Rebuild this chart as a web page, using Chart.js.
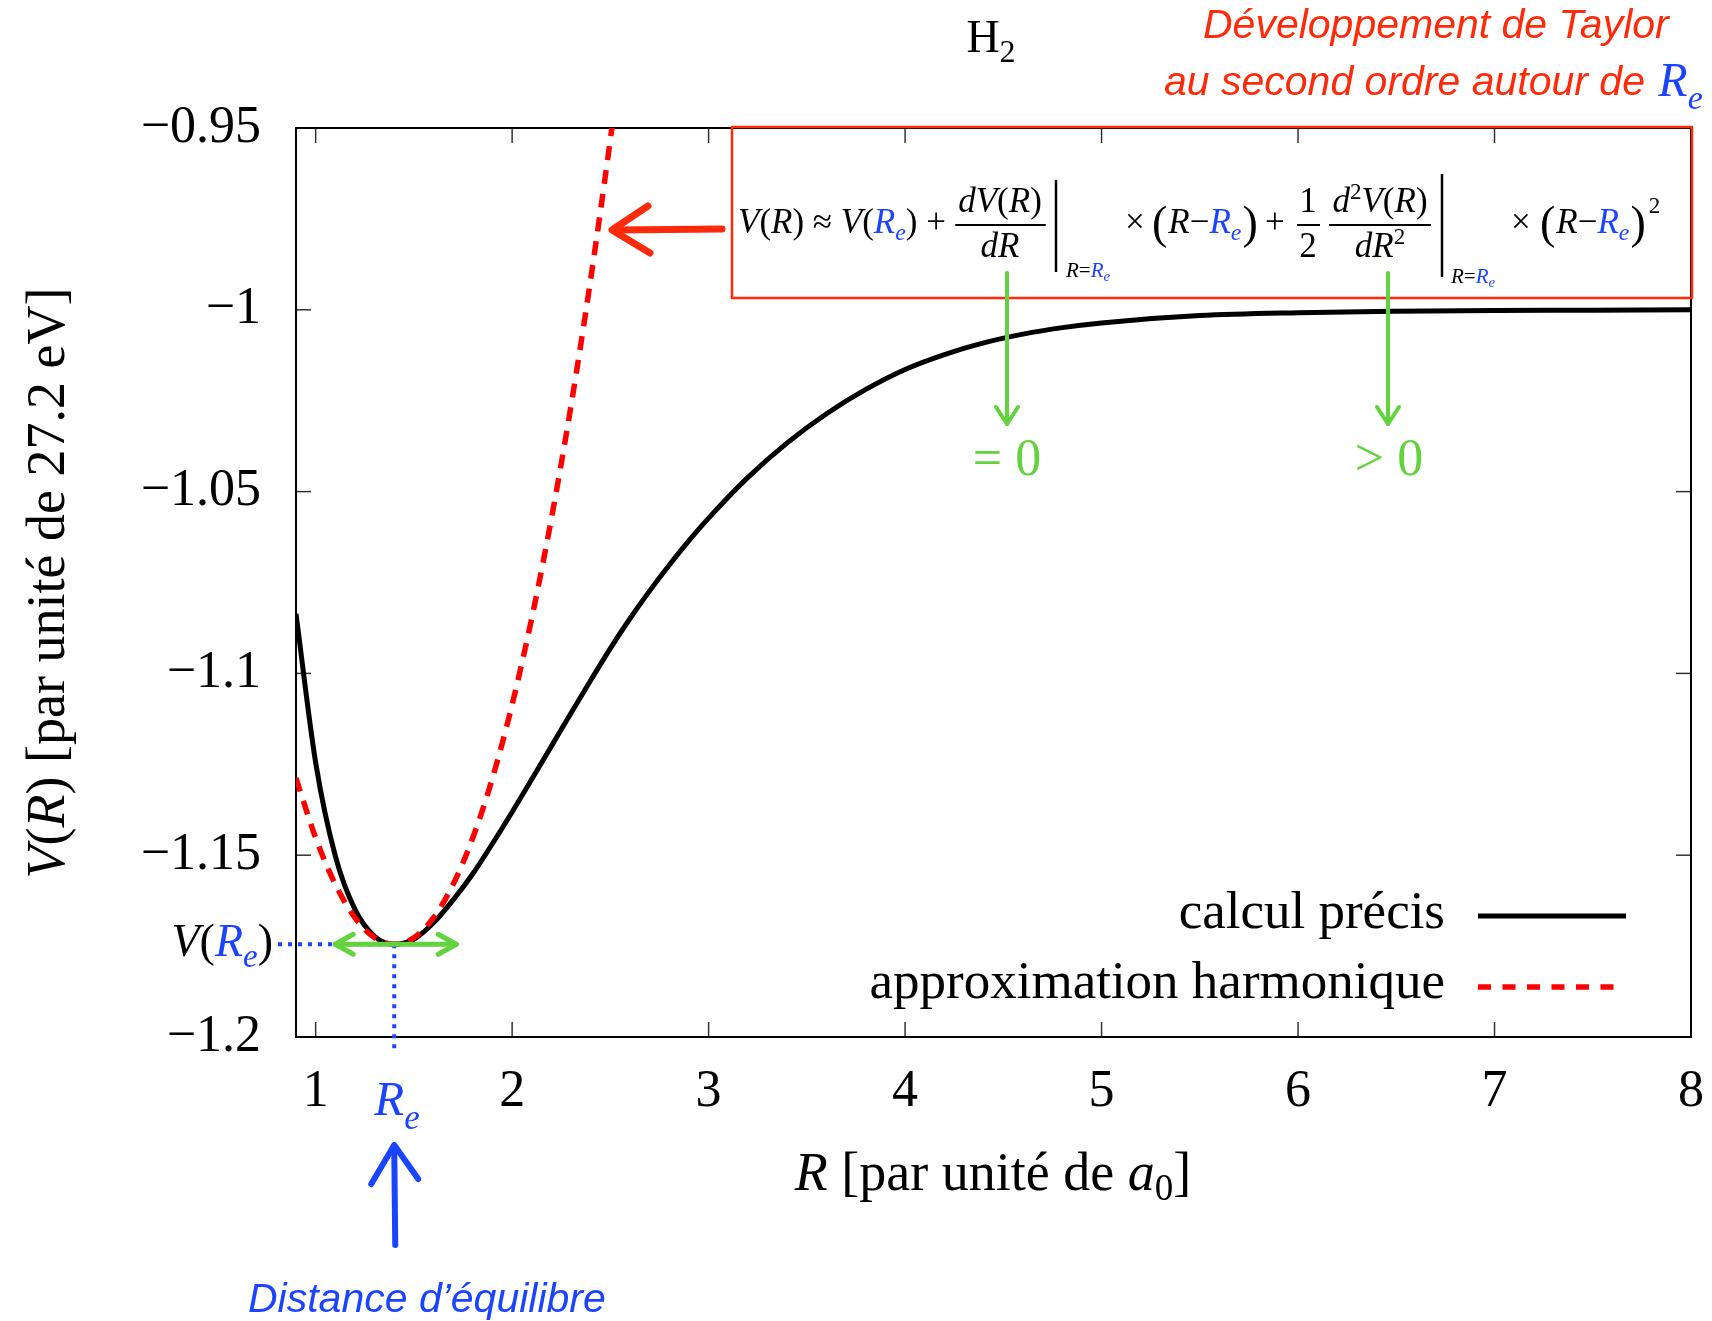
<!DOCTYPE html>
<html>
<head>
<meta charset="utf-8">
<script src="https://cdn.jsdelivr.net/npm/chart.js@4.4.1/dist/chart.umd.min.js"></script>
<style>
  html, body { margin: 0; background: #fff; }
  #wrap { width: 1712px; height: 1321px; }
</style>
</head>
<body>
<div id="wrap"><canvas id="courbe"></canvas></div>
<script>
// R en unités de a0, V en hartree (27.2 eV)
const rExact = [0.9, 1.0, 1.1, 1.2, 1.3, 1.4, 1.5, 1.6, 1.7, 1.8, 1.9, 2.0, 2.1, 2.2, 2.3, 2.4, 2.5,
                2.6, 2.7, 2.8, 2.9, 3.0, 3.2, 3.4, 3.6, 3.8, 4.0, 4.2, 4.4, 4.6, 4.8, 5.0, 5.5, 6.0, 6.5, 7.0, 7.5, 8.0];
const vExact = [-1.0836, -1.1245, -1.1502, -1.1649, -1.1723, -1.1745, -1.1731, -1.1686, -1.1623, -1.1551, -1.1468,
                -1.1381, -1.1291, -1.1200, -1.1109, -1.1019, -1.0931, -1.0849, -1.0773, -1.0702, -1.0635, -1.0573,
                -1.0461, -1.0366, -1.0286, -1.0219, -1.0164, -1.0123, -1.0091, -1.0067, -1.0049, -1.0036, -1.0016,
                -1.0008, -1.0004, -1.0002, -1.0001, -1.0000];

const rHarm = [0.9, 1.0, 1.1, 1.2, 1.3, 1.4, 1.5, 1.6, 1.7, 1.8, 1.9, 2.0, 2.1, 2.2, 2.3, 2.4, 2.5, 2.51];
const vHarm = [-1.1288, -1.1452, -1.1580, -1.1672, -1.1727, -1.1745, -1.1727, -1.1672, -1.1580, -1.1452, -1.1288,
               -1.1086, -1.0848, -1.0574, -1.0263, -0.9915, -0.9531, -0.9490];

const xTicks = [1, 2, 3, 4, 5, 6, 7, 8];
const yTicks = [-1.2, -1.15, -1.1, -1.05, -1, -0.95];
const yTickLabels = ['−1.2', '−1.15', '−1.1', '−1.05', '−1', '−0.95'];
const seriesNames = ['calcul précis', 'approximation harmonique'];

// position d'équilibre
const Re = 1.4;
const VRe = -1.1745;

const SERIF = '"Liberation Serif", "Times New Roman", serif';
const SANS = '"Liberation Sans", Arial, sans-serif';
const ROUGE = '#ff2a0a';
const BLEU = '#1a44ff';
const VERT = '#62d23e';

// écrit une suite de morceaux [texte, police, couleur, décalage vertical]
function morceaux(ctx, x, y, parts) {
  parts.forEach(([t, f, col, dy]) => {
    ctx.font = f;
    ctx.fillStyle = col || '#000';
    ctx.fillText(t, x, y + (dy || 0));
    x += ctx.measureText(t).width;
  });
  return x;
}
function largeur(ctx, parts) {
  let w = 0;
  parts.forEach(([t, f]) => { ctx.font = f; w += ctx.measureText(t).width; });
  return w;
}
function trait(ctx, x1, y1, x2, y2) {
  ctx.beginPath(); ctx.moveTo(x1, y1); ctx.lineTo(x2, y2); ctx.stroke();
}
function fleche(ctx, pts) {
  ctx.beginPath();
  ctx.moveTo(pts[0][0], pts[0][1]);
  for (let i = 1; i < pts.length; i++) ctx.lineTo(pts[i][0], pts[i][1]);
  ctx.stroke();
}

const it = s => `italic ${s}px ${SERIF}`;
const rm = s => `${s}px ${SERIF}`;

/* cadre + graduations vers l'intérieur */
const cadre = {
  id: 'cadre',
  beforeDatasetsDraw(chart) {
    const { ctx, chartArea: a, scales: { x, y } } = chart;
    ctx.save();
    ctx.strokeStyle = '#333';
    ctx.lineWidth = 1.5;
    xTicks.forEach(v => {
      const px = x.getPixelForValue(v);
      trait(ctx, px, a.bottom, px, a.bottom - 15);
      trait(ctx, px, a.top, px, a.top + 15);
    });
    yTicks.forEach(v => {
      const py = y.getPixelForValue(v);
      trait(ctx, a.left, py, a.left + 15, py);
      trait(ctx, a.right, py, a.right - 15, py);
    });
    ctx.strokeStyle = '#000';
    ctx.lineWidth = 2;
    ctx.strokeRect(a.left, a.top, a.width, a.height);
    ctx.restore();
  }
};

/* textes, légende et annotations */
const annotations = {
  id: 'annotations',
  afterDatasetsDraw(chart) {
    const { ctx, chartArea: a, scales: { x, y } } = chart;
    const cx = x.getPixelForValue(Re);
    const cy = y.getPixelForValue(VRe);
    ctx.save();
    ctx.textBaseline = 'alphabetic';
    ctx.textAlign = 'left';

    // titre
    let w = largeur(ctx, [['H', rm(46)], ['2', rm(32)]]);
    morceaux(ctx, 991 - w / 2, 52, [['H', rm(46)], ['2', rm(32), '#000', 10]]);

    // axe des x
    const xt = [['R', it(54)], [' [par unité de ', rm(54)], ['a', it(54)], ['0', rm(37), '#000', 10], [']', rm(54)]];
    w = largeur(ctx, xt);
    morceaux(ctx, 993 - w / 2, 1190, xt);

    // axe des y
    const yt = [['V', it(54)], ['(', rm(54)], ['R', it(54)], [') [par unité de 27.2 eV]', rm(54)]];
    w = largeur(ctx, yt);
    ctx.save();
    ctx.translate(64, 583);
    ctx.rotate(-Math.PI / 2);
    morceaux(ctx, -w / 2, 0, yt);
    ctx.restore();

    // légende
    ctx.textAlign = 'right';
    ctx.font = rm(53);
    ctx.fillStyle = '#000';
    ctx.fillText(seriesNames[0], 1445, 928);
    ctx.fillText(seriesNames[1], 1445, 998);
    ctx.textAlign = 'left';
    ctx.strokeStyle = '#000';
    ctx.lineWidth = 5;
    trait(ctx, 1478, 916, 1626, 916);
    ctx.strokeStyle = '#ff0000';
    ctx.lineWidth = 5.5;
    ctx.setLineDash([13, 11.5]);
    trait(ctx, 1478, 987, 1614, 987);
    ctx.setLineDash([]);

    // pointillés bleus vers le minimum
    ctx.strokeStyle = BLEU;
    ctx.lineWidth = 4;
    ctx.setLineDash([4, 6]);
    trait(ctx, 278, cy, cx, cy);
    trait(ctx, cx, cy, cx, a.bottom + 12);
    ctx.setLineDash([]);

    // double flèche verte
    ctx.strokeStyle = VERT;
    ctx.lineWidth = 5;
    ctx.lineCap = 'round';
    ctx.lineJoin = 'round';
    const g = cx - 59, d = cx + 62;
    trait(ctx, g, cy, d, cy);
    fleche(ctx, [[g + 18, cy - 10], [g, cy], [g + 18, cy + 10]]);
    fleche(ctx, [[d - 18, cy - 10], [d, cy], [d - 18, cy + 10]]);

    // V(Re)
    const vr = [['V', it(46)], ['(', rm(46)], ['R', it(46), BLEU], ['e', it(33), BLEU, 11], [')', rm(46)]];
    w = largeur(ctx, vr);
    morceaux(ctx, 273 - w, cy + 12, vr);

    // Re sous l'axe
    morceaux(ctx, cx - 20, 1115, [['R', it(49), BLEU], ['e', it(35), BLEU, 14]]);

    // flèche bleue
    ctx.strokeStyle = BLEU;
    ctx.lineWidth = 6;
    trait(ctx, cx + 1, 1245, cx, 1146);
    fleche(ctx, [[cx - 23, 1184], [cx, 1145], [cx + 24, 1179]]);
    ctx.font = `italic 41px ${SANS}`;
    ctx.fillStyle = BLEU;
    ctx.fillText('Distance d’équilibre', 248, 1312);

    // texte rouge
    ctx.font = `italic 41px ${SANS}`;
    ctx.fillStyle = ROUGE;
    ctx.fillText('Développement de Taylor', 1203, 38);
    const fin = morceaux(ctx, 1164, 95, [['au second ordre autour de ', `italic 41px ${SANS}`, ROUGE]]);
    morceaux(ctx, fin + 2, 96, [['R', it(48), BLEU], ['e', it(34), BLEU, 13]]);

    // boîte rouge
    ctx.strokeStyle = ROUGE;
    ctx.lineWidth = 2.5;
    ctx.strokeRect(732, 127, 960, 171);

    // flèche rouge vers la parabole
    ctx.lineWidth = 7;
    trait(ctx, 722, 229, 614, 230);
    fleche(ctx, [[648, 206], [612, 230], [650, 253]]);

    // formule
    const B = 233, N = 212, D = 257;
    morceaux(ctx, 738, B, [['V', it(35)], ['(', rm(35)], ['R', it(35)], [')', rm(35)], [' ≈ ', rm(35)],
      ['V', it(35)], ['(', rm(35)], ['R', it(35), BLEU], ['e', it(24), BLEU, 7], [')', rm(35)], [' +', rm(35)]]);
    const frac = (c, x1, x2, num, den) => {
      let ww = largeur(ctx, num);
      morceaux(ctx, c - ww / 2, N, num);
      ww = largeur(ctx, den);
      morceaux(ctx, c - ww / 2, D, den);
      ctx.strokeStyle = '#000';
      ctx.lineWidth = 2;
      trait(ctx, x1, 225, x2, 225);
    };
    frac(1000, 956, 1045, [['dV', it(35)], ['(', rm(35)], ['R', it(35)], [')', rm(35)]], [['dR', it(35)]]);
    ctx.lineWidth = 2.5;
    ctx.lineCap = 'butt';
    trait(ctx, 1056, 180, 1056, 272);
    morceaux(ctx, 1066, 277, [['R', it(21)], ['=', rm(21)], ['R', it(21), BLEU], ['e', it(15), BLEU, 4]]);
    morceaux(ctx, 1125, B, [['×', rm(35)]]);
    let px = morceaux(ctx, 1152, B + 5, [['(', rm(46)]]);
    px = morceaux(ctx, px + 1, B, [['R', it(35)], ['−', rm(35)], ['R', it(35), BLEU], ['e', it(24), BLEU, 7]]);
    morceaux(ctx, px + 1, B + 5, [[')', rm(46)]]);
    morceaux(ctx, 1265, B, [['+', rm(35)]]);
    frac(1308, 1297, 1320, [['1', rm(35)]], [['2', rm(35)]]);
    frac(1380, 1329, 1431, [['d', it(35)], ['2', rm(23), '#000', -13], ['V', it(35)], ['(', rm(35)], ['R', it(35)], [')', rm(35)]],
      [['dR', it(35)], ['2', rm(23), '#000', -13]]);
    ctx.lineWidth = 2.5;
    trait(ctx, 1442, 174, 1442, 277);
    morceaux(ctx, 1451, 283, [['R', it(21)], ['=', rm(21)], ['R', it(21), BLEU], ['e', it(15), BLEU, 4]]);
    morceaux(ctx, 1511, B, [['×', rm(35)]]);
    px = morceaux(ctx, 1540, B + 5, [['(', rm(46)]]);
    px = morceaux(ctx, px + 1, B, [['R', it(35)], ['−', rm(35)], ['R', it(35), BLEU], ['e', it(24), BLEU, 7]]);
    px = morceaux(ctx, px + 1, B + 5, [[')', rm(46)]]);
    morceaux(ctx, px + 3, 213, [['2', rm(23)]]);

    // flèches vertes sous la formule
    ctx.strokeStyle = VERT;
    ctx.lineWidth = 4;
    ctx.lineCap = 'round';
    [1007, 1388].forEach(fx => {
      trait(ctx, fx, 273, fx, 424);
      fleche(ctx, [[fx - 11, 407], [fx, 424], [fx + 11, 407]]);
    });
    ctx.font = rm(52);
    ctx.fillStyle = VERT;
    ctx.textAlign = 'center';
    ctx.fillText('= 0', 1007, 475);
    ctx.fillText('> 0', 1389, 475);

    ctx.restore();
  }
};

const tickFont = { family: SERIF, size: 52 };

new Chart(document.getElementById('courbe'), {
  type: 'line',
  data: {
    datasets: [
      {
        label: seriesNames[0],
        data: rExact.map((r, i) => ({ x: r, y: vExact[i] })),
        borderColor: '#000',
        borderWidth: 5,
        pointRadius: 0,
        cubicInterpolationMode: 'monotone',
        order: 1
      },
      {
        label: seriesNames[1],
        data: rHarm.map((r, i) => ({ x: r, y: vHarm[i] })),
        borderColor: '#ff0000',
        borderWidth: 5.5,
        borderDash: [14, 10],
        pointRadius: 0,
        cubicInterpolationMode: 'monotone',
        order: 0
      }
    ]
  },
  options: {
    responsive: true,
    maintainAspectRatio: false,
    animation: false,
    layout: { padding: { top: 128, right: 21, left: 0, bottom: 0 } },
    plugins: { legend: { display: false }, tooltip: { enabled: false } },
    scales: {
      x: {
        type: 'linear',
        min: 0.9,
        max: 8,
        afterBuildTicks: s => { s.ticks = xTicks.map(v => ({ value: v })); },
        afterFit: s => { s.height = 284; s.paddingLeft = 0; s.paddingRight = 0; },
        grid: { display: false, drawTicks: false },
        border: { display: false },
        ticks: { padding: 24, color: '#000', font: tickFont, maxRotation: 0, autoSkip: false }
      },
      y: {
        type: 'linear',
        min: -1.2,
        max: -0.95,
        afterBuildTicks: s => { s.ticks = yTicks.map(v => ({ value: v })); },
        afterFit: s => { s.width = 296; s.paddingTop = 0; s.paddingBottom = 0; },
        grid: { display: false, drawTicks: false },
        border: { display: false },
        ticks: {
          padding: 35, color: '#000', font: tickFont, autoSkip: false,
          callback: v => yTickLabels[yTicks.indexOf(v)]
        }
      }
    }
  },
  plugins: [cadre, annotations]
});
</script>
</body>
</html>
